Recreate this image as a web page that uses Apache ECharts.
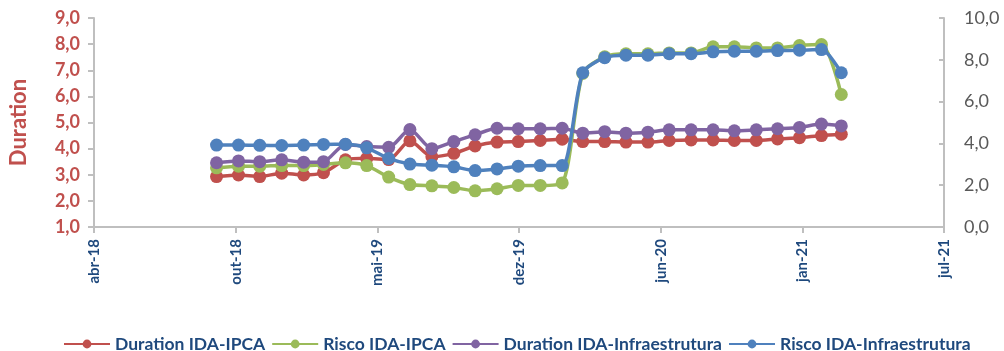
<!DOCTYPE html>
<html>
<head>
<meta charset="utf-8">
<script src="https://cdn.jsdelivr.net/npm/echarts@6/dist/echarts.min.js"></script>
<style>
  html, body { margin: 0; padding: 0; background: #ffffff; }
  #chart { width: 1004px; height: 351px; }
</style>
</head>
<body>
<div id="chart"></div>
<script>
// Month-end observation dates
const dates = [
  '2018-09-30','2018-10-31','2018-11-30','2018-12-31',
  '2019-01-31','2019-02-28','2019-03-31','2019-04-30','2019-05-31','2019-06-30',
  '2019-07-31','2019-08-31','2019-09-30','2019-10-31','2019-11-30','2019-12-31',
  '2020-01-31','2020-02-29','2020-03-31','2020-04-30','2020-05-31','2020-06-30',
  '2020-07-31','2020-08-31','2020-09-30','2020-10-31','2020-11-30','2020-12-31',
  '2021-01-31','2021-02-28'
];

// Duration (left axis)
const durationIPCA = [
  2.93, 2.99, 2.93, 3.06, 2.99, 3.08, 3.57, 3.63, 3.58, 4.30,
  3.69, 3.82, 4.10, 4.25, 4.27, 4.31, 4.36, 4.27, 4.27, 4.25,
  4.25, 4.31, 4.33, 4.33, 4.31, 4.31, 4.37, 4.42, 4.50, 4.55
];
const durationInfra = [
  3.46, 3.53, 3.50, 3.57, 3.48, 3.50, 4.16, 4.08, 4.05, 4.73,
  4.00, 4.27, 4.53, 4.78, 4.76, 4.76, 4.78, 4.59, 4.65, 4.59,
  4.63, 4.72, 4.72, 4.72, 4.68, 4.72, 4.76, 4.81, 4.94, 4.87
];

// Risco (right axis)
const riscoIPCA = [
  2.83, 2.91, 2.91, 2.94, 2.94, 2.99, 3.07, 2.94, 2.39, 2.03,
  1.97, 1.89, 1.73, 1.83, 1.99, 1.99, 2.11, 7.35, 8.14, 8.29,
  8.29, 8.33, 8.33, 8.62, 8.62, 8.57, 8.57, 8.68, 8.73, 6.34
];
const riscoInfra = [
  3.92, 3.92, 3.91, 3.90, 3.92, 3.95, 3.96, 3.79, 3.28, 3.01,
  2.96, 2.88, 2.70, 2.78, 2.91, 2.94, 2.94, 7.38, 8.10, 8.22,
  8.22, 8.29, 8.29, 8.38, 8.41, 8.41, 8.44, 8.46, 8.49, 7.38
];

const seriesNames = ['Duration IDA-IPCA', 'Risco IDA-IPCA', 'Duration IDA-Infraestrutura', 'Risco IDA-Infraestrutura'];
const seriesColors = ['#C0504D', '#9BBB59', '#8064A2', '#4F81BD'];
const monthNames = ['jan','fev','mar','abr','mai','jun','jul','ago','set','out','nov','dez'];

// Date axis runs in whole days since 1970-01-01
const DAY = 86400000;
const toDay = s => Math.round(Date.parse(s + 'T00:00:00Z') / DAY);
const axisStart = toDay('2018-04-10');
const axisStep = 200;
const axisEnd = axisStart + axisStep * 6;

const fmtDate = d => {
  const dt = new Date(d * DAY);
  return monthNames[dt.getUTCMonth()] + '-' + String(dt.getUTCFullYear()).slice(2);
};
const fmtNum = v => v.toFixed(1).replace('.', ',');

const FONT = 'Lato, "Open Sans", sans-serif';
const axisGrey = '#BFBFBF';

const pairs = arr => arr.map((v, i) => [toDay(dates[i]), v]);
const seriesData = [durationIPCA, riscoIPCA, durationInfra, riscoInfra];
const seriesAxis = [0, 1, 0, 1];

const chart = echarts.init(document.getElementById('chart'), null, { renderer: 'canvas' });
chart.setOption({
  animation: false,
  backgroundColor: '#ffffff',
  textStyle: { fontFamily: FONT },
  grid: { left: 93, right: 60, top: 18, height: 209 },
  legend: {
    left: 58,
    top: 330,
    itemWidth: 46,
    itemHeight: 11,
    itemGap: 6,
    textStyle: { color: '#1F497D', fontWeight: 'bold', fontSize: 17.5, fontFamily: FONT },
    data: seriesNames
  },
  xAxis: {
    type: 'value',
    min: axisStart,
    max: axisEnd,
    interval: axisStep,
    axisLine: { show: true, lineStyle: { color: axisGrey, width: 2 } },
    axisTick: { show: true, length: 6, lineStyle: { color: axisGrey, width: 2 } },
    splitLine: { show: false },
    axisLabel: {
      rotate: 90,
      margin: 12,
      color: '#1F497D',
      fontWeight: 'bold',
      fontSize: 15,
      fontFamily: FONT,
      formatter: fmtDate
    }
  },
  yAxis: [
    {
      type: 'value',
      position: 'left',
      min: 1, max: 9, interval: 1,
      name: 'Duration',
      nameLocation: 'middle',
      nameRotate: 90,
      nameGap: 64,
      nameTextStyle: { color: '#C0504D', fontWeight: 'bold', fontSize: 22, fontFamily: FONT },
      axisLine: { show: true, lineStyle: { color: axisGrey, width: 2 } },
      axisTick: { show: true, length: 6, lineStyle: { color: axisGrey, width: 2 } },
      splitLine: { show: false },
      axisLabel: {
        margin: 14,
        color: '#C0504D',
        fontWeight: 'bold',
        fontSize: 18,
        fontFamily: FONT,
        formatter: fmtNum
      }
    },
    {
      type: 'value',
      position: 'right',
      min: 0, max: 10, interval: 2,
      axisLine: { show: true, lineStyle: { color: axisGrey, width: 2 } },
      axisTick: { show: true, inside: true, length: 5, lineStyle: { color: axisGrey, width: 2 } },
      splitLine: { show: false },
      axisLabel: {
        margin: 20,
        color: '#595959',
        fontSize: 18,
        fontFamily: FONT,
        formatter: fmtNum
      }
    }
  ],
  series: seriesNames.map((name, i) => ({
    name,
    type: 'line',
    yAxisIndex: seriesAxis[i],
    data: pairs(seriesData[i]),
    smooth: 0.25,
    symbol: 'circle',
    symbolSize: 13,
    showSymbol: true,
    color: seriesColors[i],
    lineStyle: { width: 3.5, color: seriesColors[i] },
    itemStyle: { color: seriesColors[i] },
    z: 2 + i
  }))
});
</script>
</body>
</html>
